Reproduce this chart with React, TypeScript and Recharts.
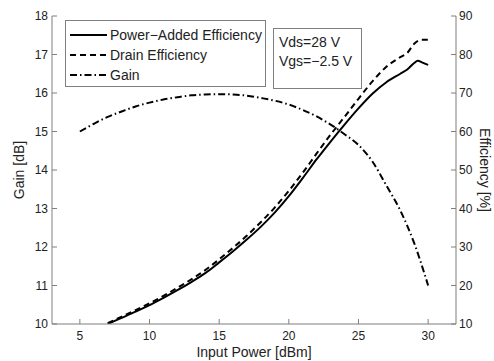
import { Legend, Line, LineChart, XAxis, YAxis } from "recharts";

// input power [dBm] and gain [dB]
const gainX = [5, 6, 7, 8, 9, 10, 11, 12, 13, 14, 15, 16, 17, 18, 19, 20, 21, 22, 23, 24, 25, 26, 27, 28, 29, 30];
const gainDb = [15.0, 15.2, 15.38, 15.52, 15.65, 15.75, 15.83, 15.89, 15.94, 15.96, 15.97, 15.96, 15.93, 15.87, 15.8, 15.7, 15.56, 15.39, 15.18, 14.93, 14.65, 14.22, 13.6, 12.95, 12.1, 11.0];

// power-added efficiency [%]
const paeX = [7, 8, 9, 10, 11, 12, 13, 14, 15, 16, 17, 18, 19, 20, 21, 22, 23, 24, 25, 26, 27, 28, 28.5, 29, 29.25, 29.6, 30];
const pae = [10, 11.6, 13.2, 14.9, 16.8, 18.8, 20.9, 23.2, 26.0, 28.9, 32.0, 35.3, 39.0, 43.2, 47.9, 52.8, 57.4, 61.8, 66.0, 69.8, 72.8, 75.0, 76.1, 77.8, 78.4, 77.9, 77.3];

// drain efficiency [%]
const drainX = [7, 8, 9, 10, 11, 12, 13, 14, 15, 16, 17, 18, 19, 20, 21, 22, 23, 24, 25, 26, 27, 28, 28.5, 29, 29.5, 30];
const drain = [10.2, 11.9, 13.6, 15.4, 17.3, 19.4, 21.6, 24.0, 26.8, 29.8, 33.0, 36.5, 40.3, 44.6, 49.3, 54.3, 59.2, 63.8, 68.5, 73.0, 76.8, 79.3, 80.4, 82.8, 83.8, 83.8];

const xTicks = [5, 10, 15, 20, 25, 30];
const gainTicks = [10, 11, 12, 13, 14, 15, 16, 17, 18];
const effTicks = [10, 20, 30, 40, 50, 60, 70, 80, 90];

const gainData = gainX.map((x, i) => ({ x, gain: gainDb[i] }));
const paeData = paeX.map((x, i) => ({ x, eff: pae[i] }));
const drainData = drainX.map((x, i) => ({ x, eff: drain[i] }));

const FRAME = "#7f7f7f";
const INK = "#222";
const FONT = "'Liberation Sans', Arial, sans-serif";

const legendItems = [
  { name: "Power\u2212Added Efficiency", dash: undefined },
  { name: "Drain Efficiency", dash: "6 4" },
  { name: "Gain", dash: "7 3 1.5 3" },
];

const LeftTick = ({ x, y, payload }: any) => (
  <g>
    <line x1={x} x2={x + 5} y1={y} y2={y} stroke={FRAME} />
    <text x={x - 4} y={y} textAnchor="end" dominantBaseline="central" fontSize={12} fill={INK} fontFamily={FONT}>
      {payload.value}
    </text>
  </g>
);

const RightTick = ({ x, y, payload }: any) => (
  <g>
    <line x1={x - 5} x2={x} y1={y} y2={y} stroke={FRAME} />
    <text x={x + 3} y={y} textAnchor="start" dominantBaseline="central" fontSize={12} fill={INK} fontFamily={FONT}>
      {payload.value}
    </text>
  </g>
);

const BottomTick = ({ x, y, payload }: any) => (
  <g>
    <line x1={x} x2={x} y1={y - 5} y2={y} stroke={FRAME} />
    <text x={x} y={y + 16} textAnchor="middle" fontSize={12} fill={INK} fontFamily={FONT}>
      {payload.value}
    </text>
  </g>
);

const TopTick = ({ x, y }: any) => (
  <line x1={x} x2={x} y1={y} y2={y + 5} stroke={FRAME} />
);

const LegendBox = () => (
  <div
    style={{
      border: `1px solid ${FRAME}`,
      background: "#fff",
      width: 201,
      height: 67,
      boxSizing: "border-box",
    }}
  >
    <svg width={200} height={66} style={{ display: "block" }}>
      {legendItems.map((it, i) => (
        <g key={it.name}>
          <line x1={4} x2={41} y1={14 + i * 20} y2={14 + i * 20} stroke="#000" strokeWidth={2} strokeDasharray={it.dash} />
          <text x={44} y={14 + i * 20} dominantBaseline="central" fontSize={14} fill={INK} fontFamily={FONT}>
            {it.name}
          </text>
        </g>
      ))}
    </svg>
  </div>
);

export default function App() {
  return (
    <div style={{ position: "absolute", left: 0, top: 0, width: 494, height: 361, background: "#fff" }}>
      <LineChart width={494} height={361} margin={{ top: 16, right: 0, bottom: 0, left: 0 }}>
        <XAxis
          xAxisId="b"
          dataKey="x"
          type="number"
          domain={[3, 32]}
          ticks={xTicks}
          allowDataOverflow
          height={37}
          stroke={FRAME}
          tickSize={0}
          tickMargin={0}
          tickLine={false}
          tick={<BottomTick />}
          label={{
            content: ({ viewBox }: any) => (
              <text x={viewBox.x + viewBox.width / 2} y={357} textAnchor="middle" fontSize={14} fill={INK} fontFamily={FONT}>
                Input Power [dBm]
              </text>
            ),
          }}
        />
        <XAxis
          xAxisId="t"
          orientation="top"
          dataKey="x"
          type="number"
          domain={[3, 32]}
          ticks={xTicks}
          allowDataOverflow
          height={0}
          stroke={FRAME}
          tickSize={0}
          tickMargin={0}
          tickLine={false}
          tick={<TopTick />}
        />
        <YAxis
          yAxisId="g"
          domain={[10, 18]}
          ticks={gainTicks}
          allowDataOverflow
          width={52}
          stroke={FRAME}
          tickSize={0}
          tickMargin={0}
          tickLine={false}
          tick={<LeftTick />}
          label={{
            content: ({ viewBox }: any) => {
              const cy = viewBox.y + viewBox.height / 2;
              return (
                <text x={19} y={cy} transform={`rotate(-90 19 ${cy})`} textAnchor="middle" dominantBaseline="central" fontSize={14} fill={INK} fontFamily={FONT}>
                  Gain [dB]
                </text>
              );
            },
          }}
        />
        <YAxis
          yAxisId="e"
          orientation="right"
          domain={[10, 90]}
          ticks={effTicks}
          allowDataOverflow
          width={38}
          stroke={FRAME}
          tickSize={0}
          tickMargin={0}
          tickLine={false}
          tick={<RightTick />}
          label={{
            content: ({ viewBox }: any) => {
              const cy = viewBox.y + viewBox.height / 2;
              return (
                <text x={485} y={cy} transform={`rotate(90 485 ${cy})`} textAnchor="middle" dominantBaseline="central" fontSize={14} fill={INK} fontFamily={FONT}>
                  Efficiency [%]
                </text>
              );
            },
          }}
        />
        <Line
          data={gainData}
          xAxisId="b"
          yAxisId="g"
          dataKey="gain"
          name="Gain"
          type="monotone"
          stroke="#000"
          strokeWidth={2}
          strokeDasharray="7 3 1.5 3"
          dot={false}
          isAnimationActive={false}
        />
        <Line
          data={drainData}
          xAxisId="b"
          yAxisId="e"
          dataKey="eff"
          name="Drain Efficiency"
          type="monotone"
          stroke="#000"
          strokeWidth={2}
          strokeDasharray="6 4"
          dot={false}
          isAnimationActive={false}
        />
        <Line
          data={paeData}
          xAxisId="b"
          yAxisId="e"
          dataKey="eff"
          name="Power-Added Efficiency"
          type="monotone"
          stroke="#000"
          strokeWidth={2}
          dot={false}
          isAnimationActive={false}
        />
        <Legend
          layout="vertical"
          align="center"
          verticalAlign="middle"
          content={<LegendBox />}
          wrapperStyle={{ left: 65, top: 20, width: 201, height: 67 }}
        />
      </LineChart>
      <div
        style={{
          position: "absolute",
          left: 273,
          top: 28,
          width: 89,
          height: 61,
          boxSizing: "border-box",
          border: `1px solid ${FRAME}`,
          background: "#fff",
          fontFamily: FONT,
          fontSize: 14,
          color: INK,
          lineHeight: "19px",
          padding: "4px 0 0 5px",
        }}
      >
        <div>Vds=28 V</div>
        <div>Vgs=&minus;2.5 V</div>
      </div>
    </div>
  );
}
